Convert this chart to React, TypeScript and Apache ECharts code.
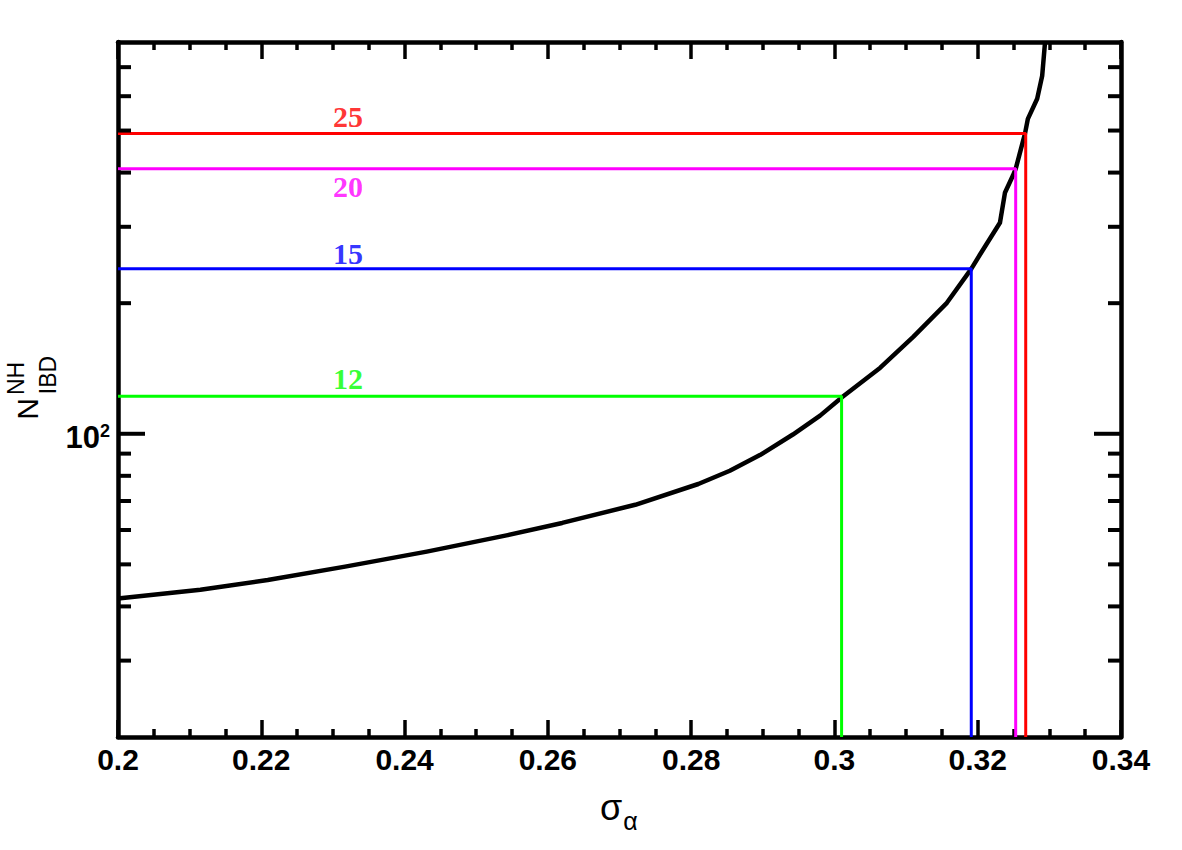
import React, { useEffect, useRef } from 'react';
import * as echarts from 'echarts';

// Curve: sigma_alpha vs N_IBD^NH
const sigmaValues = [0.2, 0.2115, 0.2209, 0.2317, 0.2431, 0.2544, 0.262, 0.2722, 0.281, 0.2854, 0.2896, 0.2942, 0.298, 0.3011, 0.3064, 0.311, 0.3157, 0.3191, 0.3203, 0.3231, 0.3238, 0.3249, 0.3253, 0.3266, 0.327, 0.3283, 0.329, 0.3294];
const nibdValues = [41.7, 43.7, 46.0, 49.4, 53.5, 58.4, 62.3, 68.6, 76.6, 82.2, 89.3, 99.6, 110.1, 121.5, 142, 167.3, 200.4, 240, 258.6, 306.4, 359.3, 393.3, 408, 492, 532, 592, 669, 800];

// Threshold lines
const thresholdYears = ['12', '15', '20', '25'];
const thresholdSigma = [0.301, 0.3191, 0.3253, 0.3267];
const thresholdN = [122, 240, 408, 492];
const thresholdColors = ['#00ff00', '#0000ff', '#ff00ff', '#ff0000'];
const labelSigma = 0.2321;
const labelOffsets = [-17.5, -15.5, 17.5, -17.5];

// Axes
const xMin = 0.2;
const xMax = 0.34;
const xStep = 0.02;
const yMin = 20;
const yMax = 800;
const yMinorTicks = [30, 40, 50, 60, 70, 80, 90, 200, 300, 400, 500, 600, 700];
const yMajorTicks = [100];
const yMajorLabelBase = '10';
const yMajorLabelExp = '2';

const SANS = "'Liberation Sans', Arial, Helvetica, sans-serif";
const SERIF = "'Liberation Serif', 'Times New Roman', serif";

export default function App() {
  const ref = useRef<HTMLDivElement>(null);

  useEffect(() => {
    document.body.style.margin = '0';
    if (!ref.current) return;
    const chart = echarts.init(ref.current, null, { renderer: 'svg' });

    const xAxisCommon = {
      type: 'value',
      min: xMin,
      max: xMax,
      interval: xStep,
      splitLine: { show: false },
      axisLine: { show: true, onZero: false, lineStyle: { color: '#000', width: 4.5 } },
      axisTick: { show: true, inside: true, length: 17, lineStyle: { color: '#000', width: 3.5 } },
      minorTick: { show: true, splitNumber: 4, length: 8, lineStyle: { color: '#000', width: 3.5 } },
    };

    const yAxisCommon = {
      type: 'log',
      logBase: 10,
      min: yMin,
      max: yMax,
      splitLine: { show: false },
      axisTick: { show: false },
      axisLabel: { show: false },
      axisLine: { show: true, onZero: false, lineStyle: { color: '#000', width: 4.5 } },
    };

    const tickData = [
      ...yMinorTicks.map((v) => [xMin, v, 13]),
      ...yMajorTicks.map((v) => [xMin, v, 27]),
    ];

    const series: any[] = [
      {
        type: 'line',
        data: sigmaValues.map((s, i) => [s, nibdValues[i]]),
        showSymbol: false,
        symbol: 'none',
        smooth: false,
        lineStyle: { color: '#000', width: 4.5, join: 'round' },
        z: 3,
      },
    ];

    thresholdYears.forEach((yr, i) => {
      series.push({
        type: 'line',
        data: [
          [xMin, thresholdN[i]],
          [thresholdSigma[i], thresholdN[i]],
          [thresholdSigma[i], yMin],
        ],
        showSymbol: false,
        symbol: 'none',
        lineStyle: { color: thresholdColors[i], width: 3 },
        z: 4,
      });
      series.push({
        type: 'scatter',
        data: [[labelSigma, thresholdN[i]]],
        symbolSize: 0,
        label: {
          show: true,
          position: 'inside',
          offset: [0, labelOffsets[i]],
          formatter: yr,
          color: thresholdColors[i],
          fontFamily: SERIF,
          fontWeight: 'bold',
          fontSize: 30,
        },
        z: 5,
      });
    });

    series.push({
      type: 'custom',
      data: tickData,
      encode: { x: 0, y: 1 },
      z: 6,
      renderItem: (params: any, api: any) => {
        const v = api.value(1);
        const len = api.value(2);
        const pl = api.coord([xMin, v]);
        const pr = api.coord([xMax, v]);
        return {
          type: 'group',
          children: [
            {
              type: 'line',
              shape: { x1: pl[0], y1: pl[1], x2: pl[0] + len, y2: pl[1] },
              style: { stroke: '#000', lineWidth: 4 },
            },
            {
              type: 'line',
              shape: { x1: pr[0] - len, y1: pr[1], x2: pr[0], y2: pr[1] },
              style: { stroke: '#000', lineWidth: 4 },
            },
          ],
        };
      },
    });

    chart.setOption({
      animation: false,
      backgroundColor: '#fff',
      grid: { left: 118, top: 42, right: 61, bottom: 113, containLabel: false },
      xAxis: [
        {
          ...xAxisCommon,
          position: 'bottom',
          axisLabel: {
            show: true,
            margin: 7,
            color: '#000',
            fontFamily: SANS,
            fontWeight: 'bold',
            fontSize: 30,
            showMinLabel: true,
            showMaxLabel: true,
          },
        },
        {
          ...xAxisCommon,
          position: 'top',
          axisLabel: { show: false },
        },
      ],
      yAxis: [
        { ...yAxisCommon, position: 'left' },
        { ...yAxisCommon, position: 'right' },
      ],
      series,
    });

    const leftX = chart.convertToPixel({ xAxisIndex: 0 }, xMin) as number;
    const labelGraphics: any[] = [];
    yMajorTicks.forEach((v) => {
      const py = chart.convertToPixel({ yAxisIndex: 0 }, v) as number;
      labelGraphics.push(
        { type: 'text', x: leftX - 18, y: py + 4, style: { text: yMajorLabelBase, font: `bold 31px ${SANS}`, fill: '#000', align: 'right', verticalAlign: 'middle' } },
        { type: 'text', x: leftX - 18, y: py - 3, style: { text: yMajorLabelExp, font: `bold 18px ${SANS}`, fill: '#000', align: 'left', verticalAlign: 'middle' } },
      );
    });

    chart.setOption({
      graphic: [
        ...labelGraphics,
        { type: 'text', x: 611, y: 807, style: { text: 'σ', font: `36px ${SANS}`, fill: '#000', align: 'center', verticalAlign: 'middle' } },
        { type: 'text', x: 630.5, y: 821, style: { text: 'α', font: `25px ${SANS}`, fill: '#000', align: 'center', verticalAlign: 'middle' } },
        { type: 'text', x: 27.5, y: 409, rotation: Math.PI / 2, style: { text: 'N', font: `30px ${SANS}`, fill: '#000', align: 'center', verticalAlign: 'middle' } },
        { type: 'text', x: 15.5, y: 378.5, rotation: Math.PI / 2, style: { text: 'NH', font: `23px ${SANS}`, fill: '#000', align: 'center', verticalAlign: 'middle' } },
        { type: 'text', x: 47.5, y: 375, rotation: Math.PI / 2, style: { text: 'IBD', font: `23px ${SANS}`, fill: '#000', align: 'center', verticalAlign: 'middle' } },
      ],
    });

    return () => {
      chart.dispose();
    };
  }, []);

  return <div ref={ref} style={{ width: 1182, height: 850 }} />;
}
